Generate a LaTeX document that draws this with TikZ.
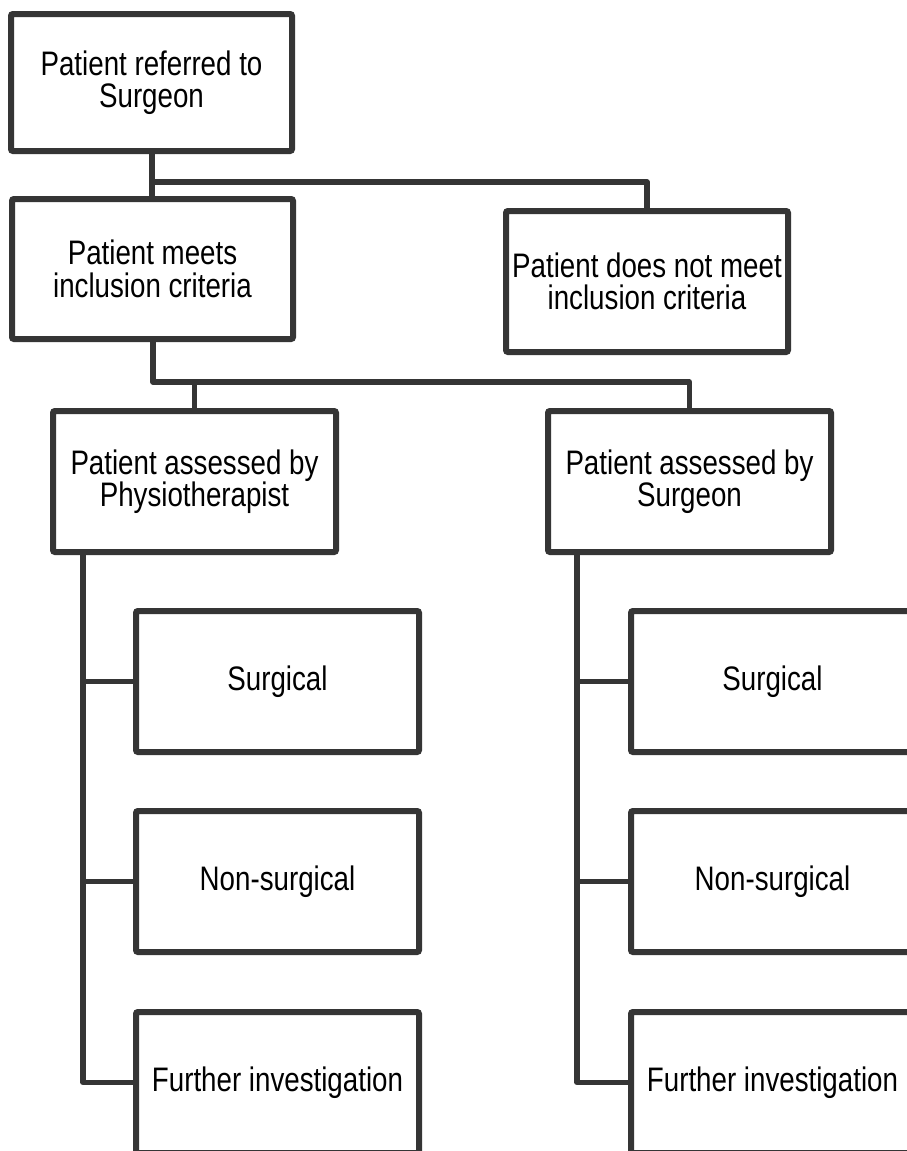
\documentclass[tikz,border=0pt]{standalone}
\usepackage{fontspec}
\setmainfont[FakeStretch=0.815]{Liberation Sans}
\definecolor{linegray}{HTML}{353535}
\begin{document}
\begin{tikzpicture}[x=1pt,y=-1pt,
  box/.style={draw=linegray, line width=6pt, rounded corners=2pt, fill=white,
    minimum width=283pt, minimum height=141pt, inner sep=0pt, align=center,
    font=\fontsize{34}{32.5}\selectfont},
  conn/.style={draw=linegray, line width=5.2pt, line join=round, line cap=round}]
\clip (0,0) rectangle (907,1151);
\useasboundingbox (0,0) rectangle (907,1151);
\fill[white] (0,0) rectangle (907,1151);

\coordinate (ab) at (152,182);
\coordinate (bd) at (153,382);
\coordinate (Lsp) at (83,552);
\coordinate (Rsp) at (577,552);

\node[box, minimum width=281pt, minimum height=137pt] (A) at (151.5,82.5) {Patient referred to\\Surgeon};
\node[box, minimum width=281pt, minimum height=140pt] (B) at (152.5,269) {Patient meets\\inclusion criteria};
\node[box, minimum width=282pt] (C) at (647,281.5) {Patient does not meet\\inclusion criteria};
\node[box] (D) at (194.5,481.5) {Patient assessed by\\Physiotherapist};
\node[box] (E) at (689.5,481.5) {Patient assessed by\\Surgeon};
\node[box] (LS) at (277.5,681.5) {Surgical};
\node[box] (LN) at (277.5,881.5) {Non-surgical};
\node[box] (LF) at (277.5,1082.5) {Further investigation};
\node[box] (RS) at (772.5,681.5) {Surgical};
\node[box] (RN) at (772.5,881.5) {Non-surgical};
\node[box] (RF) at (772.5,1082.5) {Further investigation};

\draw[conn] (A.south -| ab) -- (B.north -| ab);
\draw[conn] (ab) -| (C.north);
\draw[conn] (B.south -| bd) |- (bd) -| (E.north);
\draw[conn] (bd -| D.north) -- (D.north);
\draw[conn] (Lsp |- D.south) |- (LF.west);
\draw[conn] (Lsp |- LS.west) -- (LS.west);
\draw[conn] (Lsp |- LN.west) -- (LN.west);
\draw[conn] (Rsp |- E.south) |- (RF.west);
\draw[conn] (Rsp |- RS.west) -- (RS.west);
\draw[conn] (Rsp |- RN.west) -- (RN.west);
\end{tikzpicture}
\end{document}
